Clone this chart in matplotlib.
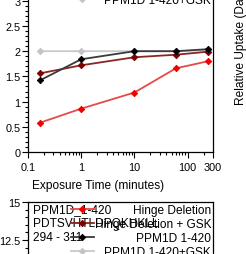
import matplotlib.pyplot as plt
import matplotlib.ticker as mticker

plt.rcParams['font.family'] = ['Liberation Sans', 'DejaVu Sans']

# tiempos de exposicion (minutos)
tiempos = [0.167, 1, 10, 60, 240]

# captacion relativa (Da) por estado
bisagra = [0.58, 0.86, 1.18, 1.66, 1.80]
bisagra_gsk = [1.56, 1.72, 1.88, 1.93, 1.99]
ppm1d = [1.42, 1.84, 2.0, 2.0, 2.04]
ppm1d_gsk = [2.0, 2.0, 2.0, 2.0, 2.02]

etiquetas = ['Hinge Deletion', 'Hinge Deletion + GSK', 'PPM1D 1-420', 'PPM1D 1-420+GSK']
colores_linea = ['#e84848', '#8c2424', '#3a3a3a', '#c8c8c8']
colores_marca = ['#ee0000', '#780000', '#000000', '#c4c4c4']
orden_z = [3, 4, 5, 2]

xticks = [0.1, 1, 10, 100, 300]
xtick_labels = ['0.1', '1', '10', '100', '300']
yticks = [0, 0.5, 1, 1.5, 2, 2.5, 3]
ytick_labels = ['0', '0.5', '1', '1.5', '2', '2.5', '3']
yticks_abajo = [12.5, 15]
ytick_labels_abajo = ['12.5', '15']
peptido = 'PPM1D_1-420\nPDTSVHTLDPQKHKLL\n294 - 311'

W, H = 246, 255
fig = plt.figure(figsize=(W / 100, H / 100), dpi=100)

# panel de arriba (parte visible)
ax = fig.add_axes([28 / W, (H - 153) / H, 185 / W, 201.6 / H])
# panel de abajo (solo se ve el borde superior)
ax2 = fig.add_axes([28 / W, (H - 431) / H, 185 / W, 228 / H])

series = [bisagra, bisagra_gsk, ppm1d, ppm1d_gsk]
lineas = []
for i in range(len(series)):
    l, = ax.plot(tiempos, series[i], color=colores_linea[i], lw=1.3,
                 marker='D', ms=3.3, mfc=colores_marca[i], mec=colores_marca[i],
                 mew=0.6, zorder=orden_z[i], label=etiquetas[i])
    lineas.append(l)

for a in [ax, ax2]:
    a.set_xscale('log')
    a.set_xlim(0.1, 300)
    for s in a.spines.values():
        s.set_linewidth(0.9)
    a.tick_params(which='major', direction='out', length=4, width=0.8, labelsize=7.8, pad=1.5)
    a.tick_params(which='minor', direction='out', length=2, width=0.8)

ax.set_ylim(0, 4)
ax.set_yticks(yticks)
ax.set_yticklabels(ytick_labels)
ax.yaxis.set_minor_locator(mticker.MultipleLocator(0.1))
ax.set_xticks(xticks)
ax.set_xticklabels(xtick_labels)
ax.xaxis.set_minor_locator(mticker.LogLocator(base=10, subs=range(2, 10)))
ax.xaxis.set_minor_formatter(mticker.NullFormatter())
ax.tick_params(axis='x', which='major', pad=3)
ax.set_xlabel('Exposure Time (minutes)', fontsize=8.6, ha='left', va='center')
ax.xaxis.set_label_coords(4 / 185, -33 / 201.6)

ax2.set_ylim(0, 15)
ax2.set_yticks(yticks_abajo)
ax2.set_yticklabels(ytick_labels_abajo)
ax2.yaxis.set_minor_locator(mticker.MultipleLocator(0.5))
ax2.set_xticks([])
ax2.xaxis.set_minor_locator(mticker.NullLocator())
ax2.text(5 / 185, 1 - 1 / 228, peptido, transform=ax2.transAxes, fontsize=8.6,
         ha='left', va='top', linespacing=1.25)

leyendas = []
for a in [ax, ax2]:
    leg = a.legend(handles=lineas, loc='upper right', bbox_to_anchor=(1, 1),
                   frameon=False, fontsize=8.6, borderaxespad=0, borderpad=0.15,
                   labelspacing=0.17, handlelength=1.9, handletextpad=0.1)
    leyendas.append(leg)

fig.text(241 / W, (H - 105) / H, 'Relative Uptake (Da)', rotation=90,
         fontsize=8.6, ha='center', va='bottom')

# texto de la leyenda alineado a la derecha
fig.canvas.draw()
renderer = fig.canvas.get_renderer()
for leg in leyendas:
    anchos = [t.get_window_extent(renderer).width for t in leg.get_texts()]
    for t, w in zip(leg.get_texts(), anchos):
        t.set_position((max(anchos) - w, 0))

fig.savefig('out.png', dpi=100)
